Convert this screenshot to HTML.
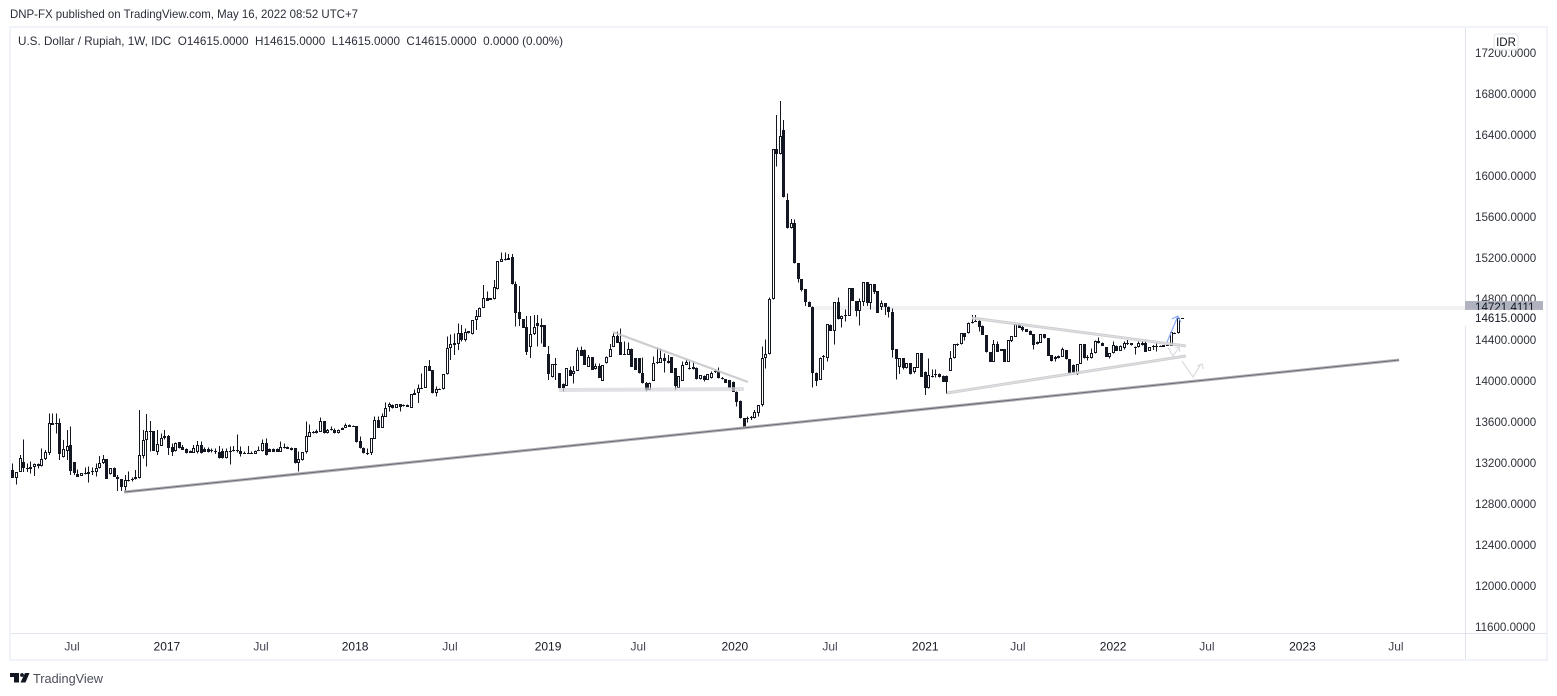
<!DOCTYPE html>
<html lang="en">
<head>
<meta charset="utf-8">
<title>U.S. Dollar / Rupiah, 1W</title>
<style>
html,body{margin:0;padding:0;background:#fff;width:1557px;height:696px;overflow:hidden}
svg{display:block;font-family:"Liberation Sans",sans-serif}
</style>
</head>
<body>
<svg id="chart" xmlns="http://www.w3.org/2000/svg" width="1557" height="696" viewBox="0 0 1557 696">
  <rect x="0" y="0" width="1557" height="696" fill="#ffffff"/>
  <text x="10" y="18" font-size="12" fill="#2a2e39" textLength="348" lengthAdjust="spacingAndGlyphs">DNP-FX published on TradingView.com, May 16, 2022 08:52 UTC+7</text>
  <g id="bands"></g>
  <g id="candles"></g>
  <g id="drawings"></g>
  <rect x="1466" y="28" width="80" height="605" fill="#ffffff"/>
  <rect x="10" y="27" width="1537" height="633" fill="none" stroke="#f0f3fa" stroke-width="2"/>
  <line x1="11" y1="633.5" x2="1546" y2="633.5" stroke="#e0e3eb" stroke-width="1"/>
  <line x1="1465.5" y1="28" x2="1465.5" y2="659" stroke="#e0e3eb" stroke-width="1"/>
  <g id="price-axis"></g>
  <g id="time-axis"></g>
  <text x="18" y="45" font-size="12" fill="#2a2e39" textLength="545" lengthAdjust="spacingAndGlyphs" xml:space="preserve">U.S. Dollar / Rupiah, 1W, IDC  O14615.0000  H14615.0000  L14615.0000  C14615.0000  0.0000 (0.00%)</text>
  <g>
    <rect x="1494" y="34" width="24" height="16" rx="3" fill="#ffffff" fill-opacity="0.9" stroke="#e0e3eb"/>
    <text x="1506" y="46" font-size="11.5" text-anchor="middle" fill="#131722">IDR</text>
  </g>
  <g>
    <path d="M10 673H19V682.5H14V677H10ZM25 673H29.5L25.5 682.5H20.5Z" fill="#131722"/>
    <circle cx="22" cy="675" r="1.9" fill="#131722"/>
    <text x="33" y="683" font-size="13" fill="#4a4e59" textLength="70" lengthAdjust="spacingAndGlyphs">TradingView</text>
  </g>
</svg>
<script>
const opens = [13132,13057,13110,13213,13148,13138,13165,13187,13175,13236,
13301,13594,13590,13587,13262,13320,13372,13207,13090,13073,
13090,13090,13116,13116,13152,13197,13236,13090,13148,13067,
13041,12969,13028,13038,13041,13057,13269,13425,13506,13512,
13311,13370,13441,13464,13360,13314,13405,13353,13334,13317,
13301,13311,13376,13337,13337,13327,13320,13311,13317,13246,
13314,13320,13325,13320,13301,13301,13301,13288,13327,13320,
13399,13334,13334,13334,13305,13356,13353,13343,13343,13197,
13226,13305,13457,13496,13490,13506,13610,13490,13520,13522,
13490,13522,13542,13571,13562,13561,13415,13350,13301,13295,
13435,13620,13545,13652,13750,13766,13740,13773,13766,13766,
13740,13887,13880,13929,13935,14147,14108,13880,13921,13919,
14065,14319,14352,14361,14465,14400,14488,14456,14596,14628,
14716,14807,14791,14797,14895,15165,15181,15203,15207,14943,
14670,14605,14524,14329,14456,14563,14547,14547,14261,14036,
14163,14075,13971,13955,14108,14065,14101,14303,14303,14140,
14231,14114,14147,14004,14173,14238,14335,14439,14378,14261,
14254,14309,14222,14222,14075,13984,13913,14000,14173,14179,
14222,14199,14231,14124,13935,14004,14157,14124,14114,14124,
14017,14049,14010,14026,14085,14098,14033,14017,14010,13994,
13896,13809,13636,13630,13636,13636,13691,13763,14221,14260,
14797,16260,16211,16449,15766,15489,15538,15148,14992,14894,
14774,14725,14081,14010,14235,14228,14546,14491,14767,14602,
14637,14637,14904,14780,14686,14774,14963,14758,14943,14878,
14725,14758,14725,14676,14309,14140,14221,14124,14172,14091,
14130,14270,14091,13928,14042,14059,14069,14049,14049,14101,
14221,14358,14358,14465,14465,14569,14579,14586,14537,14449,
14280,14189,14358,14309,14309,14189,14394,14433,14553,14530,
14504,14491,14455,14358,14374,14455,14416,14254,14238,14221,
14238,14303,14212,14156,14065,14166,14358,14238,14221,14270,
14394,14374,14329,14238,14270,14345,14296,14319,14361,14368,
14329,14329,14368,14374,14296,14335,14342,14342,14348,14351,
14345,14472,14465,14615];
const highs = [13197,13110,13278,13431,13197,13213,13197,13197,13343,13327,
13685,13685,13685,13636,13425,13522,13555,13207,13138,13100,
13158,13165,13158,13197,13269,13278,13236,13148,13155,13083,
13041,13083,13116,13060,13132,13717,13522,13678,13610,13512,
13522,13490,13522,13474,13392,13400,13405,13376,13340,13320,
13376,13415,13408,13350,13350,13340,13343,13366,13343,13343,
13360,13366,13480,13360,13310,13366,13310,13320,13360,13431,
13440,13343,13340,13343,13408,13392,13360,13350,13343,13311,
13305,13603,13577,13510,13525,13642,13610,13530,13555,13535,
13525,13545,13587,13575,13565,13561,13457,13350,13343,13441,
13652,13652,13685,13789,13789,13770,13773,13775,13770,13770,
13870,13919,13965,14075,14147,14205,14108,13945,13925,14065,
14433,14456,14465,14563,14547,14514,14490,14596,14693,14716,
14937,14872,14810,14986,15171,15256,15256,15239,15239,14970,
14927,14605,14635,14635,14645,14645,14612,14547,14342,14163,
14222,14075,13975,14124,14140,14147,14329,14335,14305,14254,
14231,14173,14173,14157,14238,14361,14465,14482,14514,14384,
14374,14319,14225,14225,14231,13990,13984,14238,14329,14319,
14270,14254,14231,14124,14049,14189,14212,14189,14189,14130,
14060,14055,14065,14091,14114,14130,14040,14020,14010,13994,
13896,13809,13640,13652,13659,13717,13763,14335,14406,14816,
16260,16595,16732,16546,15831,15580,15577,15148,14992,14894,
14778,14725,14081,14228,14254,14553,14550,14767,14816,14640,
14699,14904,14904,14780,14807,14963,14963,14943,14943,14878,
14784,14760,14725,14709,14309,14221,14225,14172,14175,14133,
14270,14270,14091,14221,14114,14114,14075,14055,14052,14293,
14358,14365,14465,14470,14569,14644,14644,14590,14540,14449,
14283,14400,14384,14312,14309,14400,14439,14553,14555,14535,
14507,14494,14458,14384,14455,14458,14416,14254,14245,14250,
14325,14303,14212,14160,14166,14358,14358,14254,14319,14394,
14423,14378,14332,14270,14384,14348,14345,14384,14400,14372,
14335,14384,14384,14400,14329,14351,14368,14345,14350,14354,
14481,14475,14612,14615];
const lows = [13057,12992,13110,13110,13110,13100,13073,13148,13165,13230,
13278,13571,13490,13230,13256,13230,13083,13083,13067,13073,
13090,13008,13083,13067,13148,13190,13047,13090,13067,12927,
12927,12927,13018,13018,13041,13051,13246,13165,13311,13317,
13278,13370,13431,13278,13269,13314,13343,13327,13295,13301,
13301,13295,13295,13311,13301,13301,13288,13246,13246,13246,
13187,13311,13301,13262,13288,13288,13288,13288,13317,13311,
13275,13305,13305,13305,13305,13340,13340,13320,13197,13115,
13226,13295,13457,13490,13490,13506,13490,13490,13515,13490,
13490,13522,13542,13555,13560,13402,13343,13295,13278,13278,
13435,13545,13545,13652,13701,13734,13740,13701,13750,13744,
13740,13864,13783,13925,13935,14101,13880,13848,13920,13919,
14065,14205,14254,14303,14384,14384,14465,14456,14498,14628,
14716,14784,14791,14797,14895,15165,15175,15181,14943,14530,
14537,14521,14254,14222,14450,14335,14368,14335,14010,14036,
14010,13929,13896,13955,14049,13978,14101,14248,14157,14140,
14108,14114,14033,14004,14173,14238,14335,14374,14254,14254,
14254,14140,14108,14075,13978,13900,13913,14000,14165,14179,
14082,14170,14082,13913,13935,14004,14157,14114,14114,14017,
14017,13994,14010,14026,14080,14026,14017,13984,13935,13896,
13750,13636,13555,13594,13620,13636,13652,13750,14124,14260,
14797,16091,16211,15792,15489,15489,15148,14959,14872,14732,
14720,13938,13951,14010,14107,14189,14491,14358,14602,14524,
14579,14637,14780,14628,14540,14732,14732,14699,14849,14667,
14693,14644,14621,14228,14016,14068,14114,14124,14065,14075,
14130,14042,13863,13928,14036,14036,14036,13994,13880,14101,
14221,14340,14358,14394,14465,14560,14579,14481,14449,14280,
14189,14189,14286,14296,14189,14189,14380,14433,14521,14481,
14481,14449,14309,14358,14374,14416,14247,14189,14189,14221,
14238,14212,14075,14075,14060,14166,14221,14199,14221,14270,
14368,14342,14238,14221,14270,14293,14296,14309,14350,14345,
14260,14329,14345,14286,14296,14303,14286,14335,14335,14342,
14345,14465,14465,14615];
const closes = [13057,13110,13246,13148,13138,13165,13187,13171,13236,13311,
13594,13571,13584,13285,13334,13366,13125,13100,13067,13100,
13100,13116,13122,13152,13197,13236,13047,13148,13067,13041,
12969,13034,13034,13044,13060,13278,13425,13512,13512,13317,
13386,13441,13464,13350,13311,13399,13343,13327,13301,13301,
13343,13376,13301,13311,13311,13317,13307,13246,13246,13317,
13320,13325,13327,13288,13288,13288,13288,13320,13317,13392,
13275,13305,13305,13305,13360,13360,13340,13327,13197,13236,
13305,13464,13500,13506,13512,13610,13490,13522,13528,13490,
13522,13545,13571,13555,13560,13402,13343,13295,13295,13441,
13620,13545,13659,13740,13773,13734,13773,13750,13757,13744,
13870,13864,13929,13932,14147,14101,13880,13919,13923,14065,
14319,14358,14368,14465,14400,14482,14465,14596,14635,14716,
14807,14784,14807,14921,15171,15187,15187,15181,14943,14667,
14602,14521,14287,14456,14524,14537,14530,14335,14065,14163,
14153,13929,13935,14124,14049,14098,14303,14248,14157,14231,
14108,14147,14033,14157,14238,14309,14439,14374,14254,14258,
14309,14140,14108,14075,13978,13913,13984,14173,14183,14222,
14199,14179,14082,13955,14049,14157,14189,14114,14134,14017,
14059,14010,14065,14082,14098,14026,14017,13984,13935,13896,
13799,13636,13555,13636,13652,13694,13763,14221,14260,14797,
16260,16211,16390,15792,15489,15538,15148,14992,14888,14774,
14725,14081,14003,14228,14240,14553,14491,14767,14602,14637,
14640,14904,14780,14686,14780,14963,14758,14943,14872,14667,
14758,14719,14676,14302,14211,14221,14124,14172,14065,14133,
14270,14042,13928,14058,14052,14069,14036,13994,13994,14221,
14358,14352,14465,14433,14569,14579,14589,14530,14449,14280,
14189,14358,14286,14296,14189,14400,14439,14553,14521,14498,
14481,14449,14351,14384,14455,14416,14247,14199,14212,14244,
14309,14212,14075,14075,14166,14358,14221,14228,14270,14394,
14368,14342,14238,14270,14351,14293,14345,14368,14374,14351,
14322,14368,14351,14286,14329,14338,14335,14338,14335,14342,
14481,14470,14612,14615];

const priceTicks = [17200,16800,16400,16000,15600,15200,14800,14400,14000,13600,13200,12800,12400,12000,11600];
const lastPrice = 14615;
const markedLevel = 14721.4111;
const markedLevelStartBar = 221;

const timeLabels = ["Jul","2017","Jul","2018","Jul","2019","Jul","2020","Jul","2021","Jul","2022","Jul","2023","Jul"];
const timeLabelBars = [16.5,42.7,68.7,94.7,120.9,148,172.9,199.6,225.9,252.2,277.8,304.1,330,356.4,382.2];

/* Drawings: each entry is [bar, price, bar, price, ...] */
const supportLine = [30.9,12917,383.1,14205];
const firstWedgeUpper = [165.9,14478,203.2,13990];
const firstWedgeLower = [151,13912,202.1,13922];
const secondWedgeUpper = [265.1,14615,324.2,14341];
const secondWedgeLower = [258.2,13883,324.2,14244];
const blueArrowShaft = [319,14380,322,14634];
const blueArrowHead = [320.3,14605,322,14634,322.8,14576];
const grayArrowOne = [319.3,14322,320.6,14244,322.3,14322];
const grayArrowOneHead = [321.2,14322,322.4,14332,322.5,14283];
const grayArrowTwo = [323.1,14195,326.2,14039,328.4,14166];
const grayArrowTwoHead = [327.3,14146,328.7,14166,329,14117];

const SVG_NS = 'http://www.w3.org/2000/svg';
function xScale(bar){ return 12.3 + 3.62 * bar; }
function yScale(price){ return 94 + (16800 - price) * 0.1025; }
function make(tag, attrs, parent){
  const el = document.createElementNS(SVG_NS, tag);
  for (const k in attrs) el.setAttribute(k, attrs[k]);
  parent.appendChild(el);
  return el;
}

/* candles */
const candleLayer = document.getElementById('candles');
for (let i = 0; i < closes.length; i++){
  const cx = Math.round(xScale(i));
  const g = make('g', {}, candleLayer);
  
  
  const wick = make('rect', {x: cx, y: yScale(highs[i]), width: 1, height: Math.max(1, yScale(lows[i]) - yScale(highs[i])), fill: '#131722', 'shape-rendering': 'crispEdges'}, g);
  
  
  const up = closes[i] >= opens[i];
  const top = Math.round(yScale(Math.max(opens[i], closes[i])));
  const bottom = Math.round(yScale(Math.min(opens[i], closes[i])));
  const h = Math.max(1, bottom - top);
  let body;
  if (up && h >= 2) {
    body = make('rect', {x: cx - 0.5, y: top + 0.5, width: 2, height: h - 1, fill: '#ffffff', stroke: '#131722', 'stroke-width': 1, 'shape-rendering': 'crispEdges'}, g);
  } else {
    body = make('rect', {x: cx - 1, y: top, width: 3, height: h, fill: '#131722', 'shape-rendering': 'crispEdges'}, g);
  }
  
  
}

/* marked level band */
const bandLayer = document.getElementById('bands');
const band = make('rect', {x: xScale(markedLevelStartBar), y: yScale(markedLevel) - 1, width: 1465 - xScale(markedLevelStartBar), height: 4, fill: '#f1f1f4'}, bandLayer);



/* drawings */
const drawLayer = document.getElementById('drawings');
function pointsOf(series){
  const out = [];
  for (let i = 0; i < series.length; i += 2) out.push(xScale(series[i]).toFixed(1) + ',' + yScale(series[i + 1]).toFixed(1));
  return out.join(' ');
}
function drawLine(series, stroke, width, opacity){
  return make('polyline', {points: pointsOf(series), fill: 'none', stroke: stroke, 'stroke-width': width, 'stroke-opacity': opacity, 'stroke-linejoin': 'miter'}, drawLayer);
}
const supportOuter = drawLine(supportLine, '#b4b4ba', 3, 1);


const supportInner = drawLine(supportLine, '#6c6c75', 1, 1);


const w1u = drawLine(firstWedgeUpper, '#c6c6ca', 2.2, 0.85);


const w1l = drawLine(firstWedgeLower, '#d4d4da', 4, 0.7);


const w2u = drawLine(secondWedgeUpper, '#c8c8cc', 3, 0.85);


const w2uCore = drawLine(secondWedgeUpper, '#e6e6e8', 0.8, 0.9);


const w2l = drawLine(secondWedgeLower, '#c8c8cc', 3, 0.85);


const w2lCore = drawLine(secondWedgeLower, '#e6e6e8', 0.8, 0.9);


const ga1 = drawLine(grayArrowOne, '#dcdce0', 1.2, 1);


const ga1h = drawLine(grayArrowOneHead, '#dcdce0', 1.2, 1);


const ga2 = drawLine(grayArrowTwo, '#dcdce0', 1.2, 1);


const ga2h = drawLine(grayArrowTwoHead, '#dcdce0', 1.2, 1);


const ba = drawLine(blueArrowShaft, '#8aa8f2', 1.2, 1);


const bah = drawLine(blueArrowHead, '#8aa8f2', 1.2, 1);



/* price axis */
const priceAxis = document.getElementById('price-axis');
function priceText(value, fill){
  return make('text', {x: 1475, y: yScale(value) + 4, 'font-size': 11.6, fill: fill}, priceAxis);
}
for (const tick of priceTicks){
  const t = priceText(tick, '#2f323b');
  t.textContent = tick.toFixed(4);
  
  
}
const markedBadge = make('rect', {x: 1465, y: yScale(markedLevel) - 6, width: 78, height: 9.5, fill: '#b0b3bf'}, priceAxis);


const markedText = priceText(markedLevel, '#131722');
markedText.textContent = markedLevel.toFixed(4);


const lastMask = make('rect', {x: 1465, y: yScale(lastPrice) - 8, width: 78, height: 16, fill: '#ffffff'}, priceAxis);


const lastText = priceText(lastPrice, '#131722');
lastText.textContent = lastPrice.toFixed(4);



/* time axis */
const timeAxis = document.getElementById('time-axis');
for (let i = 0; i < timeLabels.length; i++){
  const isYear = timeLabels[i] !== 'Jul';
  const t = make('text', {x: xScale(timeLabelBars[i]), y: 650.5, 'font-size': 12, 'text-anchor': 'middle', fill: isYear ? '#131722' : '#434651'}, timeAxis);
  t.textContent = timeLabels[i];
  
  
}
</script>
</body>
</html>
